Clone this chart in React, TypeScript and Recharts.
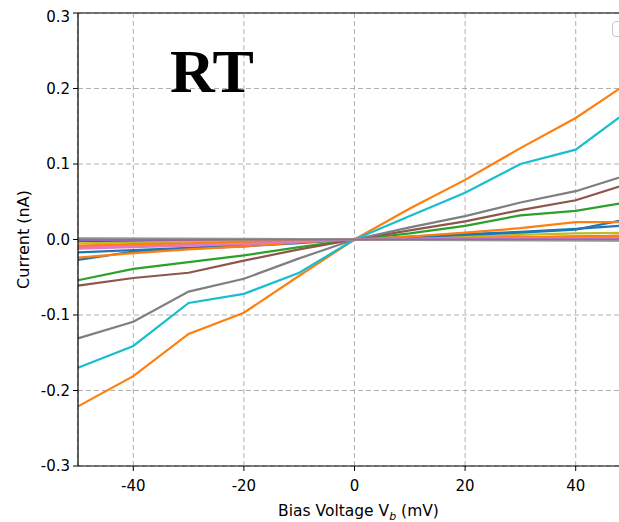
import { LineChart, Line, XAxis, YAxis, CartesianGrid, ReferenceLine } from "recharts";

/* ── Data ─────────────────────────────────────────────────────── */
const biasMv = [-50, -40, -30, -20, -10, 0, 10, 20, 30, 40, 50];

const blueA = [-0.027, -0.016, -0.012, -0.009, -0.005, 0, 0.004, 0.007, 0.01, 0.014, 0.019];
const orangeA = [-0.221, -0.181, -0.125, -0.097, -0.048, 0, 0.041, 0.079, 0.121, 0.161, 0.21];
const greenA = [-0.054, -0.039, -0.03, -0.021, -0.01, 0, 0.008, 0.018, 0.032, 0.038, 0.05];
const redA = [-0.002, -0.0017, -0.0013, -0.001, -0.0005, 0, 0.001, 0.002, 0.003, 0.004, 0.005];
const purpleA = [-0.0005, -0.0004, -0.0003, -0.0002, -0.0001, 0, 0.0001, 0.0002, 0.0003, 0.0004, 0.0005];
const brownA = [-0.061, -0.051, -0.044, -0.028, -0.013, 0, 0.012, 0.024, 0.039, 0.052, 0.075];
const pinkA = [-0.01, -0.008, -0.006, -0.004, -0.002, 0, 0.001, 0.002, 0.003, 0.003, 0.003];
const grayA = [-0.131, -0.109, -0.069, -0.052, -0.025, 0, 0.016, 0.031, 0.049, 0.064, 0.087];
const oliveA = [-0.005, -0.004, -0.003, -0.002, -0.001, 0, 0.002, 0.004, 0.006, 0.008, 0.009];
const cyanA = [-0.17, -0.141, -0.084, -0.072, -0.044, 0, 0.031, 0.062, 0.1, 0.119, 0.173];
const blueB = [-0.017, -0.014, -0.011, -0.007, -0.003, 0, 0.003, 0.006, 0.009, 0.013, 0.028];
const orangeB = [-0.024, -0.018, -0.013, -0.009, -0.004, 0, 0.004, 0.009, 0.015, 0.023, 0.023];
const orangeC = [-0.008, -0.006, -0.005, -0.003, -0.002, 0, 0.001, 0.002, 0.003, 0.004, 0.005];
const pinkB = [-0.012, -0.01, -0.008, -0.006, -0.003, 0, 0.001, 0.001, 0.002, 0.002, 0.002];
const greenB = [0.002, 0.0016, 0.0012, 0.0008, 0.0004, 0, -0.0004, -0.0008, -0.0012, -0.0016, -0.002];
const purpleB = [0, 0, 0, 0, 0, 0, 0, 0, 0, 0, 0];

const series = [
  { key: "blueA", values: blueA, color: "#1f77b4" },
  { key: "orangeA", values: orangeA, color: "#ff7f0e" },
  { key: "greenA", values: greenA, color: "#2ca02c" },
  { key: "redA", values: redA, color: "#d62728" },
  { key: "purpleA", values: purpleA, color: "#9467bd" },
  { key: "brownA", values: brownA, color: "#8c564b" },
  { key: "pinkA", values: pinkA, color: "#e377c2" },
  { key: "grayA", values: grayA, color: "#7f7f7f" },
  { key: "oliveA", values: oliveA, color: "#bcbd22" },
  { key: "cyanA", values: cyanA, color: "#17becf" },
  { key: "blueB", values: blueB, color: "#1f77b4" },
  { key: "orangeB", values: orangeB, color: "#ff7f0e" },
  { key: "orangeC", values: orangeC, color: "#ff7f0e" },
  { key: "pinkB", values: pinkB, color: "#e377c2" },
  { key: "greenB", values: greenB, color: "#8cc35a" },
  { key: "purpleB", values: purpleB, color: "#9467bd" },
];

const xTicks = [-40, -20, 0, 20, 40];
const yTicks = [-0.3, -0.2, -0.1, 0, 0.1, 0.2, 0.3];

const rows = biasMv.map((v, i) => {
  const row: Record<string, number> = { v };
  series.forEach((s) => (row[s.key] = s.values[i]));
  return row;
});

const FONT = "DejaVu Sans, sans-serif";

// x label with italic subscript b
function XLabel({ viewBox }: any) {
  const cx = viewBox.x + viewBox.width / 2;
  return (
    <text x={cx + 4} y={viewBox.y + 50} textAnchor="middle" fontFamily={FONT} fontSize={15.5} fill="#000">
      Bias Voltage V
      <tspan fontSize={11} fontStyle="italic" dy={4}>b</tspan>
      <tspan dy={-4}> (mV)</tspan>
    </text>
  );
}

export default function App() {
  return (
    <div style={{ width: 619, height: 522, overflow: "hidden", position: "relative" }}>
      <style>{"html,body{margin:0;overflow:hidden}"}</style>
      <div style={{ position: "absolute", left: 8, top: 8, width: 640, height: 514 }}>
        <LineChart
          width={640}
          height={514}
          data={rows}
          margin={{ top: 5, right: 17, left: 0, bottom: 0 }}
        >
          <CartesianGrid stroke="#b0b0b0" strokeDasharray="5 3" horizontal vertical />
          <XAxis
            dataKey="v"
            type="number"
            domain={[-50, 50]}
            ticks={xTicks}
            height={56}
            tick={{ fill: "#000", fontSize: 15, fontFamily: FONT }}
            tickSize={5}
            tickMargin={9}
            axisLine={{ stroke: "#000", strokeWidth: 1.2 }}
            tickLine={{ stroke: "#000" }}
            label={<XLabel />}
          />
          <YAxis
            type="number"
            domain={[-0.3, 0.3]}
            ticks={yTicks}
            width={70}
            tickFormatter={(t: number) => t.toFixed(1)}
            tick={{ fill: "#000", fontSize: 15, fontFamily: FONT }}
            tickSize={5}
            tickMargin={3}
            axisLine={{ stroke: "#000", strokeWidth: 1.2 }}
            tickLine={{ stroke: "#000" }}
            label={{
              value: "Current (nA)",
              angle: -90,
              position: "insideLeft",
              dx: 10,
              fill: "#000",
              fontSize: 16,
              fontFamily: FONT,
              style: { textAnchor: "middle" },
            }}
          />
          <ReferenceLine y={0.3} stroke="#000" strokeWidth={1.2} />
          {series.map((s) => (
            <Line
              key={s.key}
              dataKey={s.key}
              stroke={s.color}
              strokeWidth={2.2}
              dot={false}
              isAnimationActive={false}
            />
          ))}
        </LineChart>
        <div
          style={{
            position: "absolute",
            left: 162,
            top: 32,
            fontFamily: "Liberation Serif, serif",
            fontWeight: "bold",
            fontSize: 62,
            lineHeight: 1,
            color: "#000",
          }}
        >
          RT
        </div>
        <div
          style={{
            position: "absolute",
            zIndex: 2,
            left: 604,
            top: 13,
            width: 22,
            height: 14,
            border: "1.5px solid #c8c8c8",
            borderRadius: 4,
            background: "rgba(255,255,255,0.8)",
          }}
        />
      </div>
    </div>
  );
}
